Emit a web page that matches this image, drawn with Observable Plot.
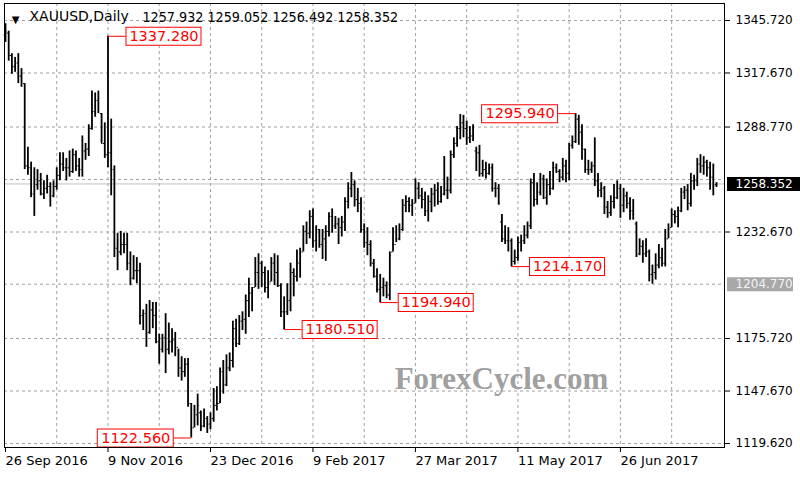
<!DOCTYPE html>
<html><head><meta charset="utf-8">
<script src="https://cdn.jsdelivr.net/npm/d3@7"></script>
<script src="https://cdn.jsdelivr.net/npm/@observablehq/plot@0.6"></script>
<style>
html,body{margin:0;padding:0;background:#fff;}
#chart{width:800px;height:480px;overflow:hidden;}
</style></head><body><div id="chart"></div>
<script>
// ---- data (daily OHLC bars, XAUUSD) ----
const highs = [
1344,1340,1328,1326,1328,1320,1312,1278,1270,1267,
1266,1264,1260,1263,1259,1260,1267,1275,1275,1272,
1276,1277,1276,1272,1284,1280,1290,1308,1307,1308,
1296,1291,1337.28,1293,1268,1232,1233,1232,1232,1222,
1220,1219,1216,1191,1194,1196,1195,1195,1178,1178,
1189,1184,1181,1179,1170,1166,1165,1165,1141,1140,
1146,1137,1138,1134,1136,1149,1150,1160,1164,1167,
1168,1185,1186,1188,1190,1199,1208,1203,1219,1221,
1217,1214,1212,1219,1221,1220,1205,1198,1205,1216,
1213,1223,1224,1236,1238,1244,1245,1236,1234,1234,
1236,1243,1245,1241,1240,1241,1251,1259,1264.5,1260,
1256,1251,1237,1235,1228,1218,1213,1210,1208,1206,
1222,1235,1236,1237,1250,1252,1251,1250,1261,1259,
1256,1254,1252,1256,1258,1259,1257,1273,1262,1276,
1283,1289,1295.5,1295,1292,1289,1290,1278,1279,1271,
1270,1269,1269,1259,1258,1242,1236,1235,1229,1223,
1230,1231,1236,1238,1261,1264,1259,1264,1263,1261,
1265,1270,1269,1266,1272,1271,1280,1284,1295.94,1295,
1290,1277,1271,1270,1283,1264,1259,1257,1249,1252,
1258,1260,1258,1256,1254,1251,1250,1238,1229,1228,
1229,1223,1215,1221,1226,1224,1234,1237,1245,1244,
1246,1256,1257,1258,1264,1263,1272,1274,1273,1271,
1270,1269,1259.052];
const lows = [
1334,1324,1317,1318,1312,1310,1266,1263,1251,1241,
1255,1252,1250,1253,1246,1251,1255,1260,1265,1260,
1262,1264,1265,1262,1262,1271,1273,1287,1294,1296,
1280,1272,1267,1252,1219,1212,1220,1221,1212,1204,
1207,1205,1183,1180,1171,1178,1181,1173,1162,1168,
1157,1167,1168,1166,1155,1153,1155,1139,1122.56,1128,
1129,1126,1128,1125,1127,1131,1137,1141,1146,1150,
1158,1160,1171,1172,1180,1178,1187,1190,1203,1202,
1203,1200,1197,1206,1204,1203,1187,1180.51,1188,1190,
1198,1206,1208,1222,1226,1229,1224,1222,1224,1218,
1217,1230,1232,1234,1226,1230,1233,1245,1251,1246,
1243,1232,1224,1220,1214,1208,1200,1194.94,1198,1197,
1196,1222,1227,1228,1233,1243,1243,1241,1248,1250,
1245,1241,1238,1243,1246,1247,1248,1252,1250,1253,
1272,1278,1282,1283,1279,1280,1281,1265,1262,1262,
1261,1263,1254,1251,1247,1227,1226,1222,1214.17,1215,
1217,1222,1226,1229,1234,1246,1247,1252,1250,1247,
1252,1255,1264,1259,1260,1259,1260,1277,1280,1279,
1271,1264,1263,1264,1257,1251,1251,1242,1240,1241,
1245,1250,1240,1243,1245,1239,1239,1219,1220,1216,
1219,1206,1204.77,1207,1213,1214,1214,1229,1235,1237,
1235,1243,1250,1244,1246,1255,1257,1264,1263,1262,
1255,1252,1256.492];
const opens = [
1338,1339,1327,1321,1323,1316,1312,1268,1267,1253,
1258,1260,1253,1256,1257,1252,1257,1263,1269,1267,
1267,1265,1274,1268,1266,1276,1277,1288,1297,1303,
1296,1280,1274,1275,1266,1224,1222,1226,1226,1216,
1208,1212,1212,1188,1189,1179,1191,1188,1174,1170,
1176,1170,1174,1175,1171,1160,1158,1162,1141,1128,
1135,1136,1129,1133,1130,1133,1140,1141,1158,1151,
1160,1164,1181,1173,1185,1186,1196,1200,1203,1211,
1216,1211,1203,1206,1216,1211,1204,1190,1190,1196,
1211,1209,1216,1222,1233,1232,1241,1228,1234,1226,
1229,1233,1241,1236,1237,1235,1238,1249,1256,1258,
1250,1248,1234,1227,1226,1216,1209,1202,1203,1204,
1199,1222,1226,1229,1234,1247,1249,1247,1248,1256,
1252,1250,1244,1249,1253,1255,1249,1253,1255,1255,
1274,1280,1288,1291,1288,1283,1284,1276,1275,1264,
1266,1264,1267,1256,1256,1238,1229,1228,1228,1217,
1219,1227,1228,1231,1236,1259,1250,1254,1261,1251,
1258,1256,1267,1265,1262,1268,1264,1279,1281,1293,
1286,1277,1266,1266,1268,1260,1255,1256,1246,1243,
1249,1251,1256,1247,1252,1248,1244,1237,1221,1225,
1221,1222,1210,1211,1215,1219,1216,1229,1235,1242,
1241,1244,1254,1255,1248,1260,1260,1269,1268,1270,
1267,1262,1257.932];
const closes = [
1340,1327,1321,1322,1316,1313,1268,1267,1253,1257,
1260,1253,1256,1257,1252,1257,1263,1269,1267,1267,
1265,1274,1268,1266,1276,1277,1288,1297,1303,1304,
1280,1274,1275,1268,1224,1222,1226,1226,1216,1208,
1212,1212,1188,1189,1178,1191,1188,1174,1170,1176,
1170,1174,1175,1171,1160,1158,1162,1142,1128,1135,
1140,1129,1133,1130,1133,1140,1141,1158,1151,1160,
1164,1181,1173,1185,1186,1196,1200,1196,1211,1216,
1211,1203,1205,1216,1211,1204,1190,1190,1196,1211,
1209,1217,1221,1233,1232,1241,1227,1234,1226,1229,
1233,1241,1236,1237,1235,1238,1249,1256,1258,1250,
1248,1234,1227,1226,1216,1209,1202,1203,1204,1199,
1220,1226,1229,1234,1247,1249,1247,1244,1256,1252,
1250,1244,1249,1253,1255,1249,1252,1256,1255,1274,
1280,1288,1291,1288,1283,1284,1288,1275,1264,1266,
1264,1267,1256,1256,1248,1229,1228,1228,1217,1219,
1227,1228,1231,1236,1259,1250,1254,1261,1251,1258,
1256,1267,1265,1262,1268,1264,1279,1281,1293,1286,
1279,1266,1266,1268,1260,1255,1256,1246,1243,1249,
1251,1257,1247,1252,1248,1244,1242,1220,1225,1221,
1222,1210,1211,1215,1219,1216,1229,1234,1242,1241,
1244,1254,1255,1248,1260,1260,1269,1268,1270,1267,
1262,1257,1258.352];

const xTickIndex  = [0, 32, 64, 96, 128, 160, 192];
const xTickLabels = ["26 Sep 2016","9 Nov 2016","23 Dec 2016","9 Feb 2017","27 Mar 2017","11 May 2017","26 Jun 2017"];
const xGridIndex  = [16, 32, 48, 64, 80, 96, 112, 128, 144, 160, 176, 192, 208];
const yTickValues = [1345.72, 1317.67, 1288.77, 1232.67, 1175.72, 1147.67, 1119.62];
const yGridValues = [1345.72, 1317.67, 1288.77, 1260.72, 1232.67, 1204.77, 1175.72, 1147.67, 1119.62];

const labelIndex = [32, 58, 87, 117, 158, 178];
const labelPrice = [1337.28, 1122.56, 1180.51, 1194.94, 1214.17, 1295.94];
const labelSide  = ["right", "left", "right", "right", "right", "left"];

const symbolName  = "XAUUSD,Daily";
const lastPrice   = 1258.352;
const markerPrice = 1204.77;
const watermark   = "ForexCycle.com";

// ---- build ----
const fmt = d3.format(".3f");
const bars = highs.map((h, i) => ({i, high: h, low: lows[i], open: opens[i], close: closes[i]}));
const labels = labelIndex.map((i, k) => ({i, price: labelPrice[k], side: labelSide[k]}));
const R = labels.filter(d => d.side === "right");
const L = labels.filter(d => d.side === "left");
const tickLabel = new Map(xTickIndex.map((d, k) => [d, xTickLabels[k]]));
const last = bars[bars.length - 1];
const quoteText = [last.open, last.high, last.low, last.close].map(fmt).join(" ");
const red = "#ff0000";

const chart = Plot.plot({
  width: 800, height: 480,
  marginTop: 3, marginRight: 76, marginBottom: 33, marginLeft: 4,
  style: {fontFamily: "DejaVu Sans, sans-serif", fontSize: "13px", background: "#fff", color: "#000"},
  x: {type: "linear", domain: [0, 222], range: [5, 716], axis: null, label: null},
  y: {domain: [1119.62, 1345.72], range: [443, 20], axis: null, label: null},
  marks: [
    Plot.ruleX(xGridIndex, {stroke: "#a0a0a0", strokeDasharray: "3,3"}),
    Plot.ruleY(yGridValues, {stroke: "#a0a0a0", strokeDasharray: "3,3"}),
    Plot.ruleY([lastPrice], {stroke: "#c0c0c0"}),
    Plot.text([watermark], {frameAnchor: "top-left", dx: 497, dy: 363, textAnchor: "middle", fontFamily: "Liberation Serif, serif", fontWeight: "bold", fontSize: 31, fill: "#a0a0a0"}),
    // OHLC bars
    Plot.ruleX(bars, {x: "i", y1: "low", y2: "high", stroke: "#000", strokeWidth: 1.8}),
    Plot.ruleY(bars, {x1: "i", x2: "i", y: "open", stroke: "#000", strokeWidth: 1, insetLeft: -1.3}),
    Plot.ruleY(bars, {x1: "i", x2: "i", y: "close", stroke: "#000", strokeWidth: 1, insetRight: -1.3}),
    // price labels, right side
    Plot.ruleY(R, {x1: "i", x2: "i", y: "price", stroke: red, insetRight: -18}),
    Plot.ruleY(R, {x1: "i", x2: "i", y: "price", stroke: red, strokeWidth: 19, insetLeft: 18, insetRight: -94}),
    Plot.ruleY(R, {x1: "i", x2: "i", y: "price", stroke: "#fff", strokeWidth: 17, insetLeft: 19, insetRight: -93}),
    Plot.text(R, {x: "i", y: "price", text: d => fmt(d.price), dx: 56, fill: red, fontSize: 14.5}),
    // price labels, left side
    Plot.ruleY(L, {x1: "i", x2: "i", y: "price", stroke: red, insetLeft: -17}),
    Plot.ruleY(L, {x1: "i", x2: "i", y: "price", stroke: red, strokeWidth: 19, insetLeft: -94, insetRight: 17}),
    Plot.ruleY(L, {x1: "i", x2: "i", y: "price", stroke: "#fff", strokeWidth: 17, insetLeft: -93, insetRight: 18}),
    Plot.text(L, {x: "i", y: "price", text: d => fmt(d.price), dx: -55.5, fill: red, fontSize: 14.5}),
    // axes
    Plot.axisX(xTickIndex, {anchor: "bottom", label: null, tickFormat: d => tickLabel.get(d), textAnchor: "start", tickSize: 5, tickPadding: 3, fontSize: 13, stroke: "#000"}),
    Plot.axisY(yTickValues, {anchor: "right", label: null, tickFormat: fmt, tickSize: 5, tickPadding: 6, textAnchor: "start", fontSize: 12, stroke: "#000"}),
    Plot.frame({stroke: "#000"}),
    // current price box & marker box on the price scale
    Plot.ruleY([lastPrice], {stroke: "#000", strokeWidth: 14, insetLeft: 723, insetRight: -76}),
    Plot.text([lastPrice], {y: d => d, text: fmt, frameAnchor: "right", dx: 11, textAnchor: "start", fill: "#fff", fontSize: 12}),
    Plot.ruleY([markerPrice], {stroke: "#a8a8a8", strokeWidth: 14, insetLeft: 723, insetRight: -69}),
    Plot.text([markerPrice], {y: d => d, text: fmt, frameAnchor: "right", dx: 11, textAnchor: "start", fill: "#f2f2f2", fontSize: 12}),
    // header
    Plot.text(["\u25BC"], {frameAnchor: "top-left", dx: 11, dy: 12, textAnchor: "middle", fontSize: 10, fill: "#000"}),
    Plot.text([symbolName], {frameAnchor: "top-left", dx: 25, dy: 8, textAnchor: "start", lineAnchor: "top", fontSize: 14, fill: "#000"}),
    Plot.text([quoteText], {frameAnchor: "top-left", dx: 138, dy: 8, textAnchor: "start", lineAnchor: "top", fontSize: 14.2, fontFamily: "DejaVu Sans Condensed, DejaVu Sans, sans-serif", fill: "#000"})
  ]
});
document.getElementById("chart").appendChild(chart);
</script>
</body></html>
